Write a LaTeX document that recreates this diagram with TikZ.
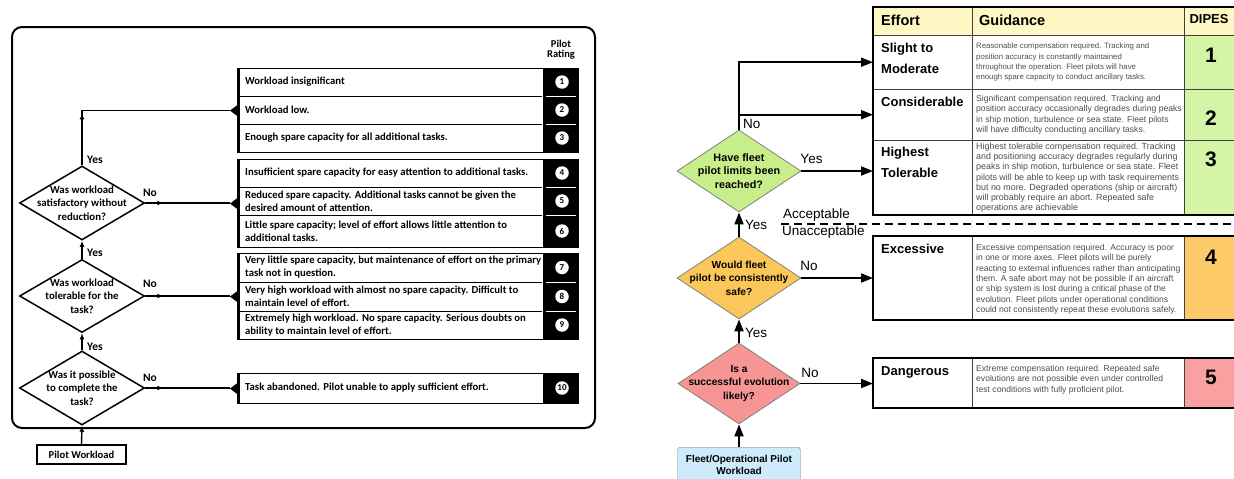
\documentclass[tikz,border=0pt]{standalone}
\usepackage{fontspec}
\setmainfont{Liberation Sans}
\newfontfamily\lfont{Carlito}
\usetikzlibrary{shapes.geometric,arrows.meta}
\definecolor{hdr}{HTML}{FFF7C4}
\definecolor{gdia}{HTML}{C8EE8C}
\definecolor{gcell}{HTML}{D5F5A6}
\definecolor{odia}{HTML}{FBC65A}
\definecolor{ocell}{HTML}{FDCA6A}
\definecolor{pdia}{HTML}{F79494}
\definecolor{pcell}{HTML}{F9A0A0}
\definecolor{bfill}{HTML}{CDEBFA}
\definecolor{gtext}{HTML}{4D4D4D}
\begin{document}
\begin{tikzpicture}[x=1pt,y=-1pt,
  ltxt/.style={font=\lfont\bfseries\fontsize{10.7}{13}\selectfont, inner sep=0, align=left, anchor=west},
  lrate/.style={circle, fill=white, inner sep=0, minimum size=13.5pt, font=\lfont\bfseries\fontsize{9}{9}\selectfont},
  lgrp/.style={draw, line width=1.2pt, inner sep=0, anchor=north west, minimum width=340pt},
  ldia/.style={diamond, draw, line width=1.5pt, minimum width=125pt, minimum height=74pt, inner sep=0},
  ldtxt/.style={font=\lfont\bfseries\fontsize{10.8}{13.4}\selectfont, align=center, inner sep=0},
  llab/.style={font=\lfont\bfseries\fontsize{11.5}{12}\selectfont, inner sep=0},
  larr/.style={line width=1.4pt, -{Latex[length=6pt,width=5pt]}},
  lline/.style={line width=1.4pt},
  rdia/.style={diamond, draw=black!50, line width=0.8pt, inner sep=0, minimum width=124pt, minimum height=82pt},
  rdtxt/.style={font=\bfseries\fontsize{10.2}{13.5}\selectfont, align=center, inner sep=0},
  rarr/.style={line width=1.8pt, -{Triangle[length=12pt,width=9pt]}},
  rlab/.style={font=\fontsize{13.5}{14}\selectfont, inner sep=0},
  eff/.style={font=\bfseries\fontsize{13}{21.3}\selectfont, align=left, inner sep=0, anchor=north west},
  hd/.style={font=\bfseries\fontsize{14.5}{15}\selectfont, inner sep=0},
  guid/.style={font=\fontsize{8.6}{10.4}\selectfont, text=gtext, align=left, inner sep=0, anchor=north west},
  dnum/.style={font=\bfseries\fontsize{21}{22}\selectfont, inner sep=0},
  cell/.style={inner sep=0, anchor=north west, minimum width=99pt}
]
\useasboundingbox (0,0) rectangle (1234,479);

% ================= LEFT PANEL =================
\draw[line width=2pt, rounded corners=10pt] (12,27) rectangle (595,428);
\node[font=\lfont\bfseries\fontsize{10.5}{10.5}\selectfont, align=center, inner sep=0] (prh) at (561,49.5) {Pilot\\Rating};

% groups
\node[lgrp, minimum height=84pt] (G1) at (238,68) {};
\node[lgrp, minimum height=88pt] (G2) at (238,159) {};
\node[lgrp, minimum height=86pt] (G3) at (238,253) {};
\node[lgrp, minimum height=30pt] (G4) at (238,373) {};
\foreach \g in {G1,G2,G3,G4}{
  \fill ([xshift=-36pt]\g.north east) rectangle (\g.south east);
  \draw[line width=3pt] (\g.north west) -- (\g.south west);
  \fill ([xshift=-8pt]\g.west) -- ([yshift=6pt]\g.west) -- ([yshift=-6pt]\g.west) -- cycle;
  \coordinate (\g t) at ([xshift=-8pt]\g.west);
}
% dividers
\foreach \yy in {96,124,187,215,282,311}{
  \draw[line width=0.9pt] (238,\yy) -- (542,\yy);
  \draw[white, line width=0.8pt] (546,\yy) -- (576,\yy);
}
% row texts
\node[ltxt] (r1) at (245,82) {Workload insignificant};
\node[ltxt] (r2) at (245,110) {Workload low.};
\node[ltxt] (r3) at (245,138) {Enough spare capacity for all additional tasks.};
\node[ltxt] (r4) at (245,173) {Insufficient spare capacity for easy attention to additional tasks.};
\node[ltxt] (r5) at (245,201) {Reduced spare capacity. Additional tasks cannot be given the\\desired amount of attention.};
\node[ltxt] (r6) at (245,231) {Little spare capacity; level of effort allows little attention to\\additional tasks.};
\node[ltxt] (r7) at (245,267.5) {Very little spare capacity, but maintenance of effort on the primary\\task not in question.};
\node[ltxt] (r8) at (245,296.5) {Very high workload with almost no spare capacity. Difficult to\\maintain level of effort.};
\node[ltxt] (r9) at (245,325) {Extremely high workload. No spare capacity. Serious doubts on\\ability to maintain level of effort.};
\node[ltxt] (r10) at (245,388) {Task abandoned. Pilot unable to apply sufficient effort.};
% ratings
\node[lrate] (n1) at (562,82) {1};
\node[lrate] (n2) at (562,110) {2};
\node[lrate] (n3) at (562,138) {3};
\node[lrate] (n4) at (562,173) {4};
\node[lrate] (n5) at (562,201) {5};
\node[lrate] (n6) at (562,231) {6};
\node[lrate] (n7) at (562,267.5) {7};
\node[lrate] (n8) at (562,296.5) {8};
\node[lrate] (n9) at (562,325) {9};
\node[lrate] (n10) at (562,388) {10};

% diamonds
\node[ldia] (D1) at (82,203) {};
\node[ldtxt] (D1t) at (D1) {Was workload\\satisfactory without\\reduction?};
\node[ldia, minimum height=73pt] (D2) at (82,296) {};
\node[ldtxt] (D2t) at (D2) {Was workload\\tolerable for the\\task?};
\node[ldia] (D3) at (82,388) {};
\node[ldtxt] (D3t) at (D3) {Was it possible\\to complete the\\task?};
\node[draw, line width=1.5pt, minimum width=89pt, minimum height=19pt, inner sep=0,
      font=\lfont\bfseries\fontsize{10.6}{11}\selectfont] (PW) at (81.5,454.5) {Pilot Workload};

% connectors
\draw[larr] (PW.north) -- (D3.south);
\draw[larr] (D3.north) -- (D2.south);
\draw[larr] (D2.north) -- (D1.south);
\draw[lline] (D1.north) |- (G1t);
\draw[larr] (D1.north) -- ++(0,-52);
\draw[lline] (D1.east) -- (D1.east -| G2t);
\draw[larr] (D1.east) -- ++(18,0);
\draw[lline] (D2.east) -- (D2.east -| G3t);
\draw[larr] (D2.east) -- ++(18,0);
\draw[lline] (D3.east) -- (D3.east -| G4t);
\draw[larr] (D3.east) -- ++(18,0);
% labels
\node[llab, anchor=west] (y1) at (87,160) {Yes};
\node[llab, anchor=west] (y2) at (87,253) {Yes};
\node[llab, anchor=west] (y3) at (87,347) {Yes};
\node[llab] (no1) at (150,193) {No};
\node[llab] (no2) at (150,284) {No};
\node[llab] (no3) at (150,378) {No};

% ================= RIGHT PANEL =================
% upper table
\fill[hdr] (873,7) rectangle (1236,35);
\fill[gcell] (1184,35) rectangle (1236,215);
\draw[line width=1pt, black!75] (873,35) -- (1236,35) (873,89) -- (1236,89) (873,140) -- (1236,140);
\draw[line width=1pt, black!75] (972,7) -- (972,215) (1184,7) -- (1184,215);
\draw[line width=2pt] (1236,7) -- (873,7) -- (873,215) -- (1236,215);
\node[cell, minimum height=54pt] (T1) at (873,35) {};
\node[cell, minimum height=51pt] (T2) at (873,89) {};
\node[cell, minimum height=75pt] (T3) at (873,140) {};

\node[hd, anchor=west] (hE) at (881,20) {Effort};
\node[hd, anchor=west] (hG) at (979,20) {Guidance};
\node[font=\bfseries\fontsize{13}{14}\selectfont, inner sep=0] (hD) at (1209,19) {DIPES};

\node[eff] (e1) at (881,43) {Slight to\\Moderate};
\node[eff] (e2) at (881,96.5) {Considerable};
\node[eff] (e3) at (881,146.5) {Highest\\Tolerable};

\node[guid, font=\fontsize{7.8}{10.4}\selectfont] (g1) at (976,42.8) {Reasonable compensation required. Tracking and\\position accuracy is constantly maintained\\throughout the operation. Fleet pilots will have\\enough spare capacity to conduct ancillary tasks.};
\node[guid] (g2) at (976,94.8) {Significant compensation required. Tracking and\\position accuracy occasionally degrades during peaks\\in ship motion, turbulence or sea state. Fleet pilots\\will have difficulty conducting ancillary tasks.};
\node[guid, font=\fontsize{8.9}{10.2}\selectfont] (g3) at (976,142.8) {Highest tolerable compensation required. Tracking\\and positioning accuracy degrades regularly during\\peaks in ship motion, turbulence or sea state. Fleet\\pilots will be able to keep up with task requirements\\but no more. Degraded operations (ship or aircraft)\\will probably require an abort. Repeated safe\\operations are achievable};

\node[dnum] (d1) at (1211,55) {1};
\node[dnum] (d2) at (1211,118) {2};
\node[dnum] (d3) at (1211,159) {3};

% dashed boundary
\draw[line width=1.6pt, dash pattern=on 8pt off 5pt] (781,224) -- (1234,224);
\node[rlab, anchor=west] (acc) at (783,215) {Acceptable};
\node[rlab, anchor=west] (unacc) at (782,232) {Unacceptable};

% excessive
\fill[ocell] (1184,236) rectangle (1236,320);
\draw[line width=1pt, black!75] (972,236) -- (972,320) (1184,236) -- (1184,320);
\draw[line width=2pt] (1236,236) -- (873,236) -- (873,320) -- (1236,320);
\node[cell, minimum height=84pt] (T4) at (873,236) {};
\node[eff] (e4) at (881,244.3) {Excessive};
\node[guid] (g4) at (976,243.8) {Excessive compensation required. Accuracy is poor\\in one or more axes. Fleet pilots will be purely\\reacting to external influences rather than anticipating\\them. A safe abort may not be possible if an aircraft\\or ship system is lost during a critical phase of the\\evolution. Fleet pilots under operational conditions\\could not consistently repeat these evolutions safely.};
\node[dnum] (d4) at (1211,257) {4};

% dangerous
\fill[pcell] (1184,358) rectangle (1236,408);
\draw[line width=1pt, black!75] (972,358) -- (972,408) (1184,358) -- (1184,408);
\draw[line width=2pt] (1236,358) -- (873,358) -- (873,408) -- (1236,408);
\node[cell, minimum height=50pt] (T5) at (873,358) {};
\node[eff] (e5) at (881,366) {Dangerous};
\node[guid] (g5) at (976,364.8) {Extreme compensation required. Repeated safe\\evolutions are not possible even under controlled\\test conditions with fully proficient pilot.};
\node[dnum] (d5) at (1211,377) {5};

% diamonds
\node[rdia, fill=gdia] (D4) at (739,171) {};
\node[rdtxt, font=\bfseries\fontsize{10.8}{13.5}\selectfont] (D4t) at (D4) {Have fleet\\pilot limits been\\reached?};
\node[rdia, fill=odia] (D5) at (739,278) {};
\node[rdtxt] (D5t) at (D5) {Would fleet\\pilot be consistently\\safe?};
\node[rdia, fill=pdia, minimum width=122pt, minimum height=81pt] (D6) at (739,383.5) {};
\node[rdtxt] (D6t) at (D6) {Is a\\successful evolution\\likely?};
\node[draw=black!50, fill=bfill, rounded corners=3pt, minimum width=123pt, minimum height=36pt,
      anchor=north, inner sep=0, align=center, font=\bfseries\fontsize{10}{12}\selectfont] (FO) at (739,447) {Fleet/Operational Pilot\\Workload};

% connectors
\draw[rarr] (FO.north) -- (D6.south);
\draw[rarr] (D6.north) -- (D5.south);
\draw[rarr] (D5.north) -- (D4.south);
\draw[rarr] (D6.east) -- (D6.east -| T5.west);
\draw[rarr] (D5.east) -- (D5.east -| T4.west);
\draw[rarr] (D4.east) -- (D4.east -| T3.west);
\draw[rarr] (D4.north) |- (T1.west);
\draw[rarr] (D4.north |- T2.west) -- (T2.west);

\node[rlab, anchor=west] (no4) at (743,124) {No};
\node[rlab] (yes4) at (811.5,159) {Yes};
\node[rlab, anchor=west] (yes5) at (745,225) {Yes};
\node[rlab] (no5) at (809,266) {No};
\node[rlab, anchor=west] (yes6) at (745,333) {Yes};
\node[rlab] (no6) at (810,373) {No};
\end{tikzpicture}
\end{document}
